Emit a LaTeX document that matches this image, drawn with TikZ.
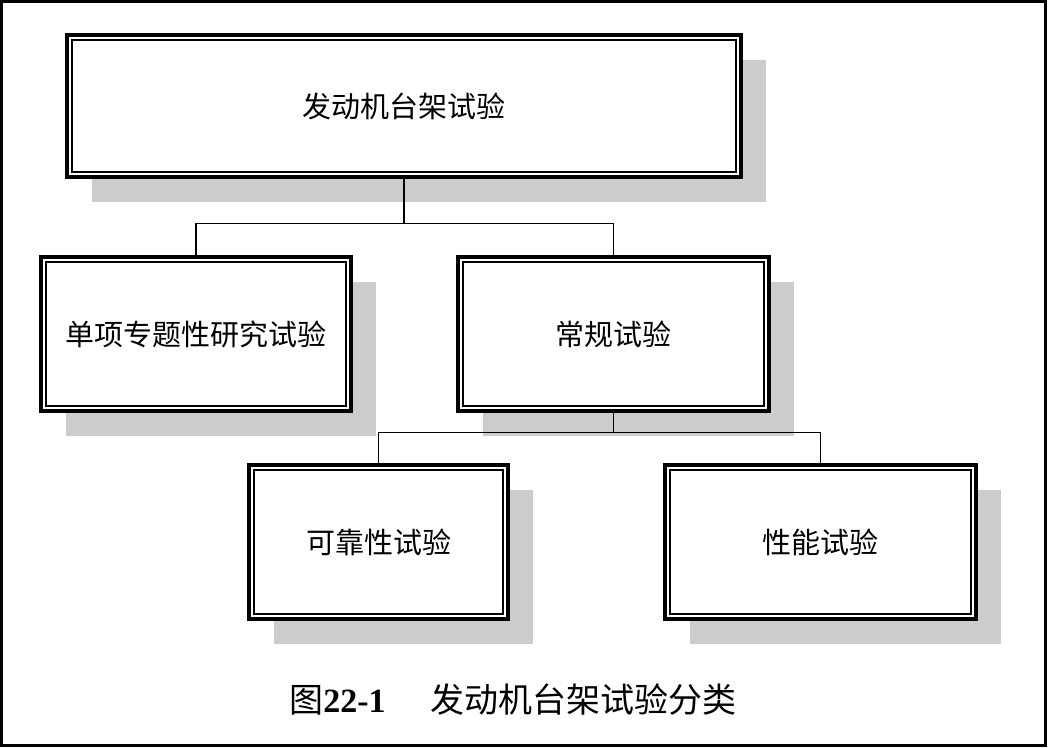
\documentclass[tikz,border=0pt]{standalone}
\usepackage{fontspec}
\setmainfont{Liberation Serif}
\newfontfamily\cjk{Noto Sans CJK SC}
\usetikzlibrary{shadows}
\definecolor{shadowgray}{RGB}{204,204,204}

\begin{document}
\begin{tikzpicture}[x=1pt, y=-1pt,
    testbox/.style={draw, line width=4.4pt, fill=white, inner sep=0pt,
      font=\fontsize{29}{34}\selectfont\cjk,
      drop shadow={shadow xshift=25pt, shadow yshift=-25pt, fill=shadowgray, opacity=1}},
    innerline/.style={line width=2.4pt},
    link/.style={line width=1.3pt}]
    %% pixel grid: 1049 x 747, y runs downwards
    \useasboundingbox (0,0) rectangle (1049,747);
    \draw[line width=3pt] (1.5,1.5) rectangle (1045.5,745.5);

    % ---- BOXES ----
    \node[testbox, minimum width=674pt, minimum height=142pt] (root)    at (404,106)   {发动机台架试验};
    \node[testbox, minimum width=310pt, minimum height=154pt] (special) at (196,334)   {单项专题性研究试验};
    \node[testbox, minimum width=311pt, minimum height=154pt] (routine) at (613.5,334) {常规试验};
    \node[testbox, minimum width=259pt, minimum height=154pt] (reliab)  at (378.5,542) {可靠性试验};
    \node[testbox, minimum width=311pt, minimum height=154pt] (perf)    at (820.5,542) {性能试验};
    % inner rule of the double frames
    \foreach \n in {root,special,routine,reliab,perf} {
      \draw[innerline] ([shift={(7pt,-7pt)}]\n.north west) rectangle ([shift={(-7pt,7pt)}]\n.south east);
    }

    % ---- CONNECTORS ----
    \draw[link] (root.south) -- ++(0,44) -| (special.north);
    \draw[link] (root.south) -- ++(0,44) -| (routine.north);
    \draw[link] (routine.south) -- ++(0,19) -| (reliab.north);
    \draw[link] (routine.south) -- ++(0,19) -| (perf.north);

    % ---- CAPTION ----
    \node[font=\fontsize{34}{40}\selectfont] (caption) at (513,700)
      {{\cjk 图}\textbf{22-1}\hspace{45pt}{\cjk 发动机台架试验分类}};

  \end{tikzpicture}
\end{document}
